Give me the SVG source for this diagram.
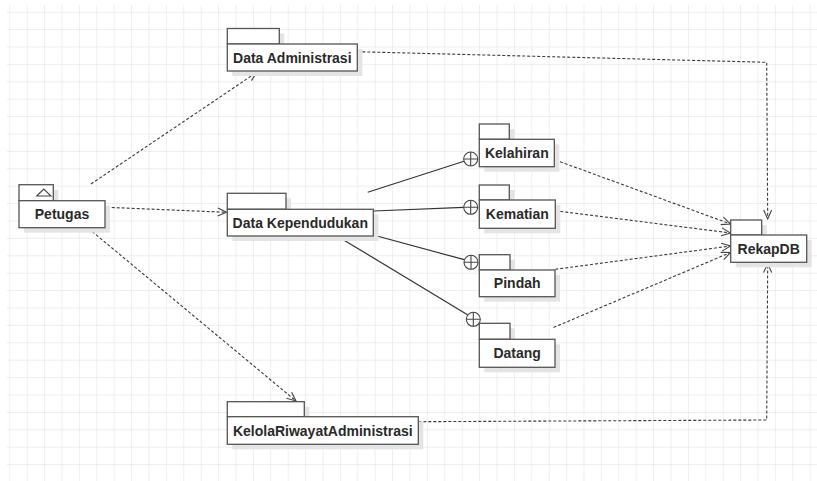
<svg xmlns="http://www.w3.org/2000/svg" width="817" height="481" viewBox="0 0 817 481">
<style>
.box{fill:#ffffff;stroke:#555555;stroke-width:1.3}
.shadow{fill:#e4e4e4}
.lbl{font-family:"Liberation Sans",Arial,sans-serif;font-size:14px;font-weight:bold;fill:#2a2a2a;text-anchor:middle}
.dep{fill:none;stroke:#3a3a3a;stroke-width:1.1;stroke-dasharray:3,2}
.comp{fill:none;stroke:#333333;stroke-width:1.2}
.nest{fill:#ffffff;stroke:#444444;stroke-width:1.1}
</style>
<defs>
<pattern id="grid" x="9.3" y="11.7" width="17.4" height="17.4" patternUnits="userSpaceOnUse">
<path d="M0 0 V17.4 M0 0 H17.4" fill="none" stroke="#e8e8e8" stroke-width="1.4"/>
</pattern>
<marker id="open" markerWidth="12" markerHeight="12" refX="10" refY="5" orient="auto" markerUnits="userSpaceOnUse">
<path d="M1 1 L10 5 L1 9" fill="none" stroke="#444444" stroke-width="1.1"/>
</marker>
</defs>
<rect width="817" height="481" fill="#ffffff"/>
<rect x="7" y="5" width="810" height="476" fill="url(#grid)"/>

<g id="connectors">
<path class="dep" d="M91 184 L256.7 72.3" marker-end="url(#open)"/>
<path class="dep" d="M106.7 207.3 L226.7 212.3" marker-end="url(#open)"/>
<path class="dep" d="M88.3 228.3 L296 401" marker-end="url(#open)"/>
<path class="dep" d="M357.3 51.7 L766.7 62.3 L767.7 219" marker-end="url(#open)"/>
<path class="dep" d="M418.3 421.7 L766.7 420 L767.7 263.5" marker-end="url(#open)"/>
<path class="dep" d="M555.3 160 L730.5 224" marker-end="url(#open)"/>
<path class="dep" d="M555.3 210.7 L730.5 233" marker-end="url(#open)"/>
<path class="dep" d="M555.3 269.3 L730.5 246" marker-end="url(#open)"/>
<path class="dep" d="M553.5 327.5 L730.5 252.5" marker-end="url(#open)"/>
<path class="comp" d="M367.7 192.3 L464 161.2"/>
<path class="comp" d="M373.3 211 L463.7 207.4"/>
<path class="comp" d="M373.3 235 L464.3 259.7"/>
<path class="comp" d="M338.3 236.7 L467.9 314.9"/>
<g class="nest">
<circle cx="470.7" cy="159" r="7"/><path d="M463.7 159 H477.7 M470.7 152 V166"/>
<circle cx="470.7" cy="207.3" r="7"/><path d="M463.7 207.3 H477.7 M470.7 200.3 V214.3"/>
<circle cx="471" cy="262.3" r="7"/><path d="M464 262.3 H478 M471 255.3 V269.3"/>
<circle cx="473.3" cy="319.3" r="7"/><path d="M466.3 319.3 H480.3 M473.3 312.3 V326.3"/>
</g>
</g>

<g id="petugas">
<rect class="shadow" x="24" y="189.7" width="34.3" height="16"/>
<rect class="shadow" x="24" y="205.7" width="86" height="27"/>
<rect class="box" x="19" y="184.7" width="34.3" height="16"/>
<rect class="box" x="19" y="200.7" width="86" height="27"/>
<path d="M36.7 196 L43.8 189 L51 196 Z" fill="#ffffff" stroke="#444444" stroke-width="1.1"/>
<text class="lbl" x="62" y="219.2">Petugas</text>
</g>

<g id="data-administrasi">
<rect class="shadow" x="232.3" y="33.5" width="52" height="15.5"/>
<rect class="shadow" x="232.3" y="49" width="130" height="27"/>
<rect class="box" x="227.3" y="28.5" width="52" height="15.5"/>
<rect class="box" x="227.3" y="44" width="130" height="27"/>
<text class="lbl" x="292.3" y="62.5">Data Administrasi</text>
</g>

<g id="data-kependudukan">
<rect class="shadow" x="232.3" y="198.3" width="58.7" height="16"/>
<rect class="shadow" x="232.3" y="214.3" width="146" height="26.7"/>
<rect class="box" x="227.3" y="193.3" width="58.7" height="16"/>
<rect class="box" x="227.3" y="209.3" width="146" height="26.7"/>
<text class="lbl" x="300.3" y="227.7">Data Kependudukan</text>
</g>

<g id="kelahiran">
<rect class="shadow" x="484.3" y="129" width="30" height="15.3"/>
<rect class="shadow" x="484.3" y="144.3" width="75" height="27.4"/>
<rect class="box" x="479.3" y="124" width="30" height="15.3"/>
<rect class="box" x="479.3" y="139.3" width="75" height="27.4"/>
<text class="lbl" x="516.8" y="158">Kelahiran</text>
</g>

<g id="kematian">
<rect class="shadow" x="484.3" y="190" width="30" height="15"/>
<rect class="shadow" x="484.3" y="205" width="76" height="28.3"/>
<rect class="box" x="479.3" y="185" width="30" height="15"/>
<rect class="box" x="479.3" y="200" width="76" height="28.3"/>
<text class="lbl" x="517.3" y="219.2">Kematian</text>
</g>

<g id="pindah">
<rect class="shadow" x="484.3" y="259.7" width="30.7" height="15.3"/>
<rect class="shadow" x="484.3" y="275" width="75.7" height="26.7"/>
<rect class="box" x="479.3" y="254.7" width="30.7" height="15.3"/>
<rect class="box" x="479.3" y="270" width="75.7" height="26.7"/>
<text class="lbl" x="517.2" y="288.4">Pindah</text>
</g>

<g id="datang">
<rect class="shadow" x="484.3" y="328.3" width="30.7" height="16"/>
<rect class="shadow" x="484.3" y="344.3" width="75.7" height="28"/>
<rect class="box" x="479.3" y="323.3" width="30.7" height="16"/>
<rect class="box" x="479.3" y="339.3" width="75.7" height="28"/>
<text class="lbl" x="517.2" y="358.3">Datang</text>
</g>

<g id="rekapdb">
<rect class="shadow" x="735.7" y="225" width="31" height="15"/>
<rect class="shadow" x="735.7" y="240" width="76" height="27.3"/>
<rect class="box" x="730.7" y="220" width="31" height="15"/>
<rect class="box" x="730.7" y="235" width="76" height="27.3"/>
<text class="lbl" x="768.7" y="253.6">RekapDB</text>
</g>

<g id="kelola-riwayat-administrasi">
<rect class="shadow" x="232.3" y="406.7" width="77" height="15"/>
<rect class="shadow" x="232.3" y="421.7" width="191" height="27.6"/>
<rect class="box" x="227.3" y="401.7" width="77" height="15"/>
<rect class="box" x="227.3" y="416.7" width="191" height="27.6"/>
<text class="lbl" x="322.8" y="435.5">KelolaRiwayatAdministrasi</text>
</g>
</svg>
